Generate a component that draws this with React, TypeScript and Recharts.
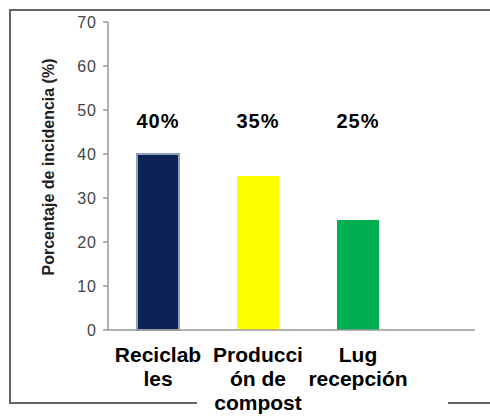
import { BarChart, Bar, XAxis, YAxis, Cell, LabelList } from "recharts";

// incidencia por destino de los residuos
const categories = ["Reciclables", "Producción de compost", "Lug recepción"];
const categoryLines = [
  ["Reciclab", "les"],
  ["Producci", "ón de", "compost"],
  ["Lug", "recepción"],
];
const incidence = [40, 35, 25];
const yTicks = [0, 10, 20, 30, 40, 50, 60, 70];

const BAR_COLORS = ["#0d2356", "#ffff00", "#00b050"];
const BAR_STROKES = ["#8fa2b6", "none", "none"];
const FONT = "Arial, 'Liberation Sans', sans-serif";
// los porcentajes se escriben en una fila a esta altura del eje
const LABEL_LEVEL = 47.5;

const data = categories.map((name, i) => ({ name, incidence: incidence[i] }));

const CategoryTick = (props: any) => {
  const { x, y, payload } = props;
  const lines = categoryLines[payload.index] ?? [];
  return (
    <text
      x={x}
      y={y}
      textAnchor="middle"
      fontFamily={FONT}
      fontWeight="bold"
      fontSize={21}
      fill="#000"
    >
      {lines.map((line, i) => (
        <tspan key={i} x={x} dy={i === 0 ? 32 : 24}>
          {line}
        </tspan>
      ))}
    </text>
  );
};

const ValueLabel = (props: any) => {
  const { x, y, width, height, value } = props;
  const bottom = y + height;
  const ly = bottom - (height * LABEL_LEVEL) / value;
  return (
    <text
      x={x + width / 2}
      y={ly + 7}
      textAnchor="middle"
      fontFamily={FONT}
      fontWeight="bold"
      fontSize={20}
      letterSpacing={1}
      fill="#000"
    >
      {`${value}%`}
    </text>
  );
};

const YTitle = () => (
  <text
    x={48}
    y={167}
    transform="rotate(-90, 48, 167)"
    textAnchor="middle"
    dominantBaseline="central"
    fontFamily={FONT}
    fontWeight="bold"
    fontSize={16}
    fill="#222"
  >
    Porcentaje de incidencia (%)
  </text>
);

export default function App() {
  return (
    <div
      style={{
        position: "fixed",
        left: 0,
        top: 0,
        width: 490,
        height: 417,
        background: "#fff",
        overflow: "hidden",
      }}
    >
      {/* marco del gráfico */}
      <div
        style={{
          position: "absolute",
          left: 9,
          top: 9,
          width: 500,
          height: 395,
          border: "2px solid #666",
          boxSizing: "border-box",
        }}
      />
      <div
        style={{
          position: "absolute",
          left: 197,
          top: 398,
          width: 251,
          height: 10,
          background: "#fff",
        }}
      />
      <div style={{ position: "absolute", left: 0, top: 0 }}>
        <BarChart
          width={490}
          height={417}
          data={data}
          margin={{ top: 22, right: 15, bottom: 0, left: 0 }}
          barSize={42}
        >
          <XAxis
            dataKey="name"
            height={87}
            interval={0}
            tickLine={false}
            tickSize={0}
            tickMargin={0}
            padding={{ left: 0, right: 67 }}
            axisLine={{ stroke: "#999", strokeWidth: 1.5 }}
            tick={<CategoryTick />}
          />
          <YAxis
            width={108}
            domain={[0, 70]}
            ticks={yTicks}
            interval={0}
            tickSize={5}
            tickMargin={6}
            axisLine={{ stroke: "#999", strokeWidth: 1.5 }}
            tickLine={{ stroke: "#999", strokeWidth: 1.5 }}
            tick={{ fill: "#444", fontSize: 16, fontFamily: FONT, letterSpacing: 1 }}
            label={<YTitle />}
          />
          <Bar dataKey="incidence" isAnimationActive={false}>
            {data.map((_, i) => (
              <Cell
                key={i}
                fill={BAR_COLORS[i]}
                stroke={BAR_STROKES[i]}
                strokeWidth={2}
              />
            ))}
            <LabelList dataKey="incidence" content={<ValueLabel />} />
          </Bar>
        </BarChart>
      </div>
    </div>
  );
}
